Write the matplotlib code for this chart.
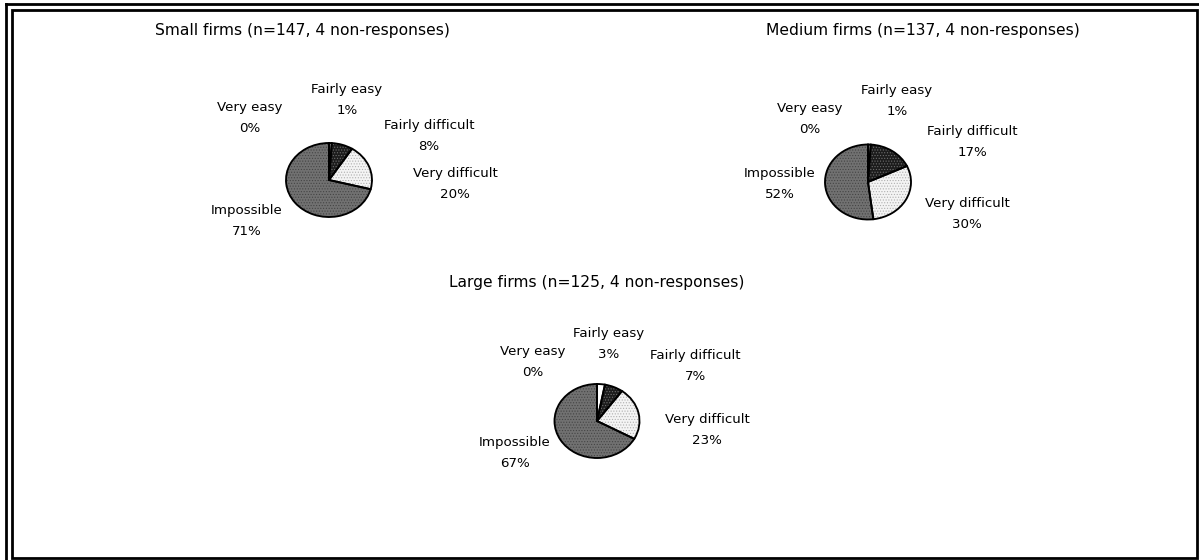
import matplotlib
matplotlib.use("Agg")
import matplotlib.pyplot as plt
from matplotlib.patches import Rectangle, Wedge
from matplotlib.lines import Line2D

# ---------------- data ----------------
categories = ["Very easy", "Fairly easy", "Fairly difficult", "Very difficult", "Impossible"]
small_values = [0, 1, 8, 20, 71]
medium_values = [0, 1, 17, 30, 52]
large_values = [0, 3, 7, 23, 67]
titles = ["Small firms (n=147, 4 non-responses)",
          "Medium firms (n=137, 4 non-responses)",
          "Large firms (n=125, 4 non-responses)"]

# ---------------- styling / layout ----------------
W, H = 1199, 560
face_colors = ["#ffffff", "#ffffff", "#1c1c1c", "#f4f4f4", "#717171"]
hatches = [None, None, "......", "......", "......"]
hatch_colors = ["black", "black", "#6e6e6e", "#b0b0b0", "#454545"]

# pie centres / radii in pixels (x, y from top-left)
pie_geom = [
    (329, 180, 43, 37),
    (868, 182, 43, 37.5),
    (597, 421, 42.5, 37),
]
title_pos = [(302, 30), (923, 30), (597, 283)]
# label block centres (midpoint between name line and percentage line)
label_pos = [
    [(250, 118), (347, 100), (429, 136), (455, 184), (247, 221)],
    [(810, 119), (897, 101), (972, 142), (967, 214), (780, 184)],
    [(533, 362), (609, 344), (695, 366), (707, 430), (515, 453)],
]

plt.rcParams["font.family"] = ["DejaVu Sans"]
plt.rcParams["hatch.linewidth"] = 0.5

fig = plt.figure(figsize=(W / 100, H / 100), dpi=100)
bg = fig.add_axes([0, 0, 1, 1])
bg.set_xlim(0, W)
bg.set_ylim(H, 0)
bg.axis("off")

# frame: inner rectangle plus offset outer lines (left/top)
bg.add_patch(Rectangle((12, 10), 1185, 548, fill=False, lw=2.0, ec="black"))
bg.add_line(Line2D([6, 6], [4, 560], lw=2.0, color="black"))
bg.add_line(Line2D([6, 1199], [4, 4], lw=2.0, color="black"))

all_values = [small_values, medium_values, large_values]
for i, vals in enumerate(all_values):
    cx, cy, rx, ry = pie_geom[i]
    ax = fig.add_axes([(cx - rx - 2) / W, 1 - (cy + ry + 2) / H,
                       (2 * rx + 4) / W, (2 * ry + 4) / H])
    wedges, _ = ax.pie(vals, startangle=90, counterclock=False,
                       colors=face_colors,
                       wedgeprops=dict(edgecolor="none", linewidth=0))
    for w, h, hc in zip(wedges, hatches, hatch_colors):
        w.set_zorder(1)
        if h:
            ax.add_patch(Wedge(w.center, w.r, w.theta1, w.theta2,
                               facecolor="none", edgecolor=hc, lw=0,
                               hatch=h, zorder=2))
        ax.add_patch(Wedge(w.center, w.r, w.theta1, w.theta2,
                           facecolor="none", edgecolor="black", lw=1.35,
                           zorder=3))
    ax.set_aspect("auto")
    ax.set_xlim(-1 - 2 / rx, 1 + 2 / rx)
    ax.set_ylim(-1 - 2 / ry, 1 + 2 / ry)
    ax.axis("off")

    tx, ty = title_pos[i]
    bg.text(tx, ty, titles[i], ha="center", va="center", fontsize=11.2)
    for cat, v, (lx, ly) in zip(categories, vals, label_pos[i]):
        bg.text(lx, ly, f"{cat}\n{v}%", ha="center", va="center",
                fontsize=9.6, linespacing=1.72, multialignment="center")

fig.savefig("out.png", dpi=100)
